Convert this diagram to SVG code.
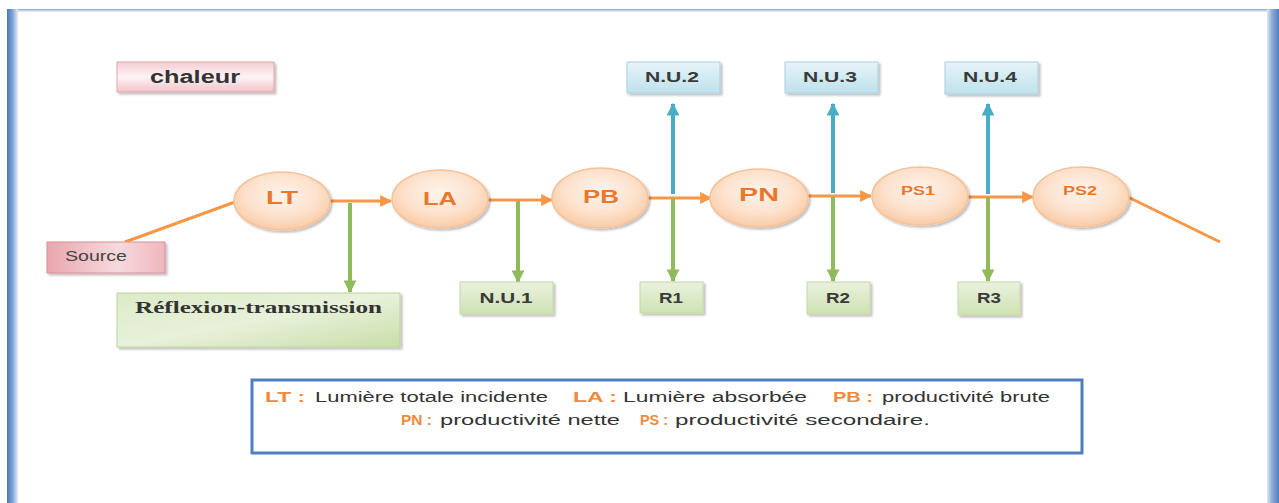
<svg xmlns="http://www.w3.org/2000/svg" width="1279" height="503" viewBox="0 0 1279 503">
  <defs>
    <linearGradient id="frameL" x1="0" y1="0" x2="1" y2="0">
      <stop offset="0" stop-color="#4a79b8"/>
      <stop offset="0.5" stop-color="#7fa3d3"/>
      <stop offset="1" stop-color="#e4edf8"/>
    </linearGradient>
    <linearGradient id="frameR" x1="0" y1="0" x2="1" y2="0">
      <stop offset="0" stop-color="#dde8f5"/>
      <stop offset="0.4" stop-color="#8eadd8"/>
      <stop offset="1" stop-color="#4f7fbf"/>
    </linearGradient>
    <linearGradient id="frameT" x1="0" y1="0" x2="0" y2="1">
      <stop offset="0" stop-color="#8aa7cc"/>
      <stop offset="1" stop-color="#f2f6fb"/>
    </linearGradient>
    <linearGradient id="pink" x1="0" y1="0" x2="0" y2="1">
      <stop offset="0" stop-color="#f4cdd2"/>
      <stop offset="0.5" stop-color="#fdf3f4"/>
      <stop offset="1" stop-color="#f0c2c8"/>
    </linearGradient>
    <linearGradient id="pinkSrc" x1="0" y1="0" x2="1" y2="0">
      <stop offset="0" stop-color="#e9a6ae"/>
      <stop offset="0.6" stop-color="#f6dadd"/>
      <stop offset="1" stop-color="#eeb7be"/>
    </linearGradient>
    <linearGradient id="green" x1="0" y1="0" x2="0" y2="1">
      <stop offset="0" stop-color="#e9f2dc"/>
      <stop offset="1" stop-color="#cfe2b4"/>
    </linearGradient>
    <linearGradient id="greenBig" x1="0" y1="0" x2="1" y2="1">
      <stop offset="0" stop-color="#dcebc8"/>
      <stop offset="0.5" stop-color="#e8f1da"/>
      <stop offset="1" stop-color="#c9dea9"/>
    </linearGradient>
    <linearGradient id="blue" x1="0" y1="0" x2="0" y2="1">
      <stop offset="0" stop-color="#e6f4f8"/>
      <stop offset="1" stop-color="#bfe1ec"/>
    </linearGradient>
    <radialGradient id="peach" cx="0.5" cy="0.4" r="0.6">
      <stop offset="0" stop-color="#fef4ec"/>
      <stop offset="0.6" stop-color="#fde2cd"/>
      <stop offset="1" stop-color="#f9cba6"/>
    </radialGradient>
    <filter id="shadow" x="-10%" y="-20%" width="130%" height="160%">
      <feDropShadow dx="2" dy="2" stdDeviation="1.2" flood-color="#000" flood-opacity="0.25"/>
    </filter>
    <marker id="arrOrange" viewBox="0 0 10 10" refX="9" refY="5" markerWidth="4" markerHeight="4" orient="auto" markerUnits="strokeWidth">
      <path d="M0,0 L10,5 L0,10 z" fill="#f79646"/>
    </marker>
    <marker id="arrGreen" viewBox="0 0 10 10" refX="9" refY="5" markerWidth="3.2" markerHeight="3.2" orient="auto" markerUnits="strokeWidth">
      <path d="M0,0 L10,5 L0,10 z" fill="#8fbb5a"/>
    </marker>
    <marker id="arrBlue" viewBox="0 0 10 10" refX="9" refY="5" markerWidth="3.2" markerHeight="3.2" orient="auto" markerUnits="strokeWidth">
      <path d="M0,0 L10,5 L0,10 z" fill="#4bacc6"/>
    </marker>
  </defs>
  <style>
    .ell { fill: url(#peach); stroke: #f6c29a; stroke-width: 1.5; filter: url(#shadow); }
    .ellTxt { font-family: "Liberation Sans", Arial, sans-serif; font-weight: bold; fill: #e9782c; text-anchor: middle; }
    .boxTxt { font-family: "Liberation Sans", Arial, sans-serif; font-weight: bold; font-size: 14px; fill: #3a3a3a; text-anchor: middle; }
    .gbox { fill: url(#green); stroke: #c3d8a4; stroke-width: 1; filter: url(#shadow); }
    .bbox { fill: url(#blue); stroke: #a9d0dd; stroke-width: 1; filter: url(#shadow); }
    .orange { stroke: #f79646; stroke-width: 3; fill: none; }
    .greenL { stroke: #8fbb5a; stroke-width: 4; fill: none; }
    .blueL { stroke: #4bacc6; stroke-width: 4; fill: none; }
    .leg { font-family: "Liberation Sans", Arial, sans-serif; font-size: 14px; fill: #333; }
    .legK { font-family: "Liberation Sans", Arial, sans-serif; font-size: 14px; fill: #f08a3c; font-weight: bold; }
  </style>

  <!-- page frame -->
  <rect x="0" y="0" width="1279" height="503" fill="#ffffff"/>
  <rect x="7" y="9" width="1268" height="3" fill="url(#frameT)"/>
  <rect x="7" y="9" width="11" height="494" fill="url(#frameL)"/>
  <rect x="1267" y="9" width="12" height="494" fill="url(#frameR)"/>

  <!-- connectors -->
  <g id="connectors">
    <line class="orange" x1="125" y1="242" x2="235" y2="202"/>
    <line class="orange" x1="330" y1="201" x2="391" y2="201" marker-end="url(#arrOrange)"/>
    <line class="orange" x1="488" y1="200" x2="552" y2="200" marker-end="url(#arrOrange)"/>
    <line class="orange" x1="648" y1="198" x2="711" y2="198" marker-end="url(#arrOrange)"/>
    <line class="orange" x1="807" y1="196" x2="871" y2="196" marker-end="url(#arrOrange)"/>
    <line class="orange" x1="968" y1="197" x2="1033" y2="197" marker-end="url(#arrOrange)"/>
    <line class="orange" x1="1128" y1="197" x2="1220" y2="242"/>

    <line class="greenL" x1="350" y1="203" x2="350" y2="292" marker-end="url(#arrGreen)"/>
    <line class="greenL" x1="518" y1="201" x2="518" y2="282" marker-end="url(#arrGreen)"/>
    <line class="greenL" x1="673" y1="199" x2="673" y2="281" marker-end="url(#arrGreen)"/>
    <line class="greenL" x1="833" y1="197" x2="833" y2="281" marker-end="url(#arrGreen)"/>
    <line class="greenL" x1="988" y1="198" x2="988" y2="281" marker-end="url(#arrGreen)"/>

    <line class="blueL" x1="673" y1="194" x2="673" y2="104" marker-end="url(#arrBlue)"/>
    <line class="blueL" x1="833" y1="193" x2="833" y2="104" marker-end="url(#arrBlue)"/>
    <line class="blueL" x1="988" y1="194" x2="988" y2="104" marker-end="url(#arrBlue)"/>
  </g>

  <!-- boxes -->
  <g id="chaleur">
    <rect x="117" y="62" width="157" height="30" fill="url(#pink)" stroke="#dfa5ad" stroke-width="1" filter="url(#shadow)"/>
    <text x="150" y="83" font-family="'Liberation Sans', Arial, sans-serif" font-weight="bold" font-size="18" fill="#333" textLength="90" lengthAdjust="spacingAndGlyphs">chaleur</text>
  </g>
  <g id="source">
    <rect x="47" y="242" width="118" height="31" fill="url(#pinkSrc)" stroke="#d98e98" stroke-width="1" filter="url(#shadow)"/>
    <text x="65" y="261" font-family="'Liberation Sans', Arial, sans-serif" font-size="14" fill="#444" textLength="62" lengthAdjust="spacingAndGlyphs">Source</text>
  </g>
  <g id="reflexion">
    <rect x="117" y="293" width="283" height="54" fill="url(#greenBig)" stroke="#bcd39a" stroke-width="1" filter="url(#shadow)"/>
    <text x="135" y="313" font-family="'Liberation Serif', 'Times New Roman', serif" font-weight="bold" font-size="17" fill="#333" textLength="247" lengthAdjust="spacingAndGlyphs">Réflexion-transmission</text>
  </g>

  <g id="nu1"><rect class="gbox" x="460" y="282" width="93" height="32"/><text class="boxTxt" x="506" y="303" textLength="53" lengthAdjust="spacingAndGlyphs">N.U.1</text></g>
  <g id="r1"><rect class="gbox" x="640" y="282" width="63" height="31"/><text class="boxTxt" x="671" y="303" textLength="24" lengthAdjust="spacingAndGlyphs">R1</text></g>
  <g id="r2"><rect class="gbox" x="807" y="282" width="63" height="32"/><text class="boxTxt" x="838" y="303" textLength="24" lengthAdjust="spacingAndGlyphs">R2</text></g>
  <g id="r3"><rect class="gbox" x="958" y="282" width="62" height="33"/><text class="boxTxt" x="989" y="303" textLength="24" lengthAdjust="spacingAndGlyphs">R3</text></g>

  <g id="nu2"><rect class="bbox" x="627" y="62" width="93" height="31"/><text class="boxTxt" x="672" y="82" textLength="54" lengthAdjust="spacingAndGlyphs">N.U.2</text></g>
  <g id="nu3"><rect class="bbox" x="785" y="62" width="93" height="31"/><text class="boxTxt" x="830" y="82" textLength="54" lengthAdjust="spacingAndGlyphs">N.U.3</text></g>
  <g id="nu4"><rect class="bbox" x="945" y="62" width="93" height="32"/><text class="boxTxt" x="990" y="82" textLength="54" lengthAdjust="spacingAndGlyphs">N.U.4</text></g>

  <!-- ellipses -->
  <g id="lt"><ellipse class="ell" cx="282" cy="201" rx="48" ry="29"/><text class="ellTxt" x="282" y="204" font-size="18" textLength="32" lengthAdjust="spacingAndGlyphs">LT</text></g>
  <g id="la"><ellipse class="ell" cx="440" cy="199" rx="48" ry="29"/><text class="ellTxt" x="440" y="205" font-size="18" textLength="34" lengthAdjust="spacingAndGlyphs">LA</text></g>
  <g id="pb"><ellipse class="ell" cx="600" cy="198" rx="48" ry="30"/><text class="ellTxt" x="601" y="203" font-size="18" textLength="36" lengthAdjust="spacingAndGlyphs">PB</text></g>
  <g id="pn"><ellipse class="ell" cx="759" cy="198" rx="49" ry="29"/><text class="ellTxt" x="759" y="201" font-size="18" textLength="40" lengthAdjust="spacingAndGlyphs">PN</text></g>
  <g id="ps1"><ellipse class="ell" cx="920" cy="196" rx="48" ry="29"/><text class="ellTxt" x="918" y="195" font-size="13" textLength="34" lengthAdjust="spacingAndGlyphs">PS1</text></g>
  <g id="ps2"><ellipse class="ell" cx="1081" cy="197" rx="48" ry="30"/><text class="ellTxt" x="1080" y="195" font-size="13" textLength="34" lengthAdjust="spacingAndGlyphs">PS2</text></g>

  <!-- legend -->
  <g id="legend">
    <rect x="252" y="380" width="830" height="73" fill="#ffffff" stroke="#4f7fbf" stroke-width="3"/>
    <text class="legK" x="265" y="402" textLength="40" lengthAdjust="spacingAndGlyphs">LT :</text>
    <text class="leg" x="315" y="402" textLength="233" lengthAdjust="spacingAndGlyphs">Lumière totale incidente</text>
    <text class="legK" x="573" y="402" textLength="44" lengthAdjust="spacingAndGlyphs">LA :</text>
    <text class="leg" x="623" y="402" textLength="184" lengthAdjust="spacingAndGlyphs">Lumière absorbée</text>
    <text class="legK" x="833" y="402" textLength="40" lengthAdjust="spacingAndGlyphs">PB :</text>
    <text class="leg" x="882" y="402" textLength="168" lengthAdjust="spacingAndGlyphs">productivité brute</text>
    <text class="legK" x="401" y="425" textLength="31" lengthAdjust="spacingAndGlyphs">PN :</text>
    <text class="leg" x="440" y="425" textLength="180" lengthAdjust="spacingAndGlyphs">productivité nette</text>
    <text class="legK" x="640" y="425" textLength="28" lengthAdjust="spacingAndGlyphs">PS :</text>
    <text class="leg" x="675" y="425" textLength="255" lengthAdjust="spacingAndGlyphs">productivité secondaire.</text>
  </g>
</svg>
